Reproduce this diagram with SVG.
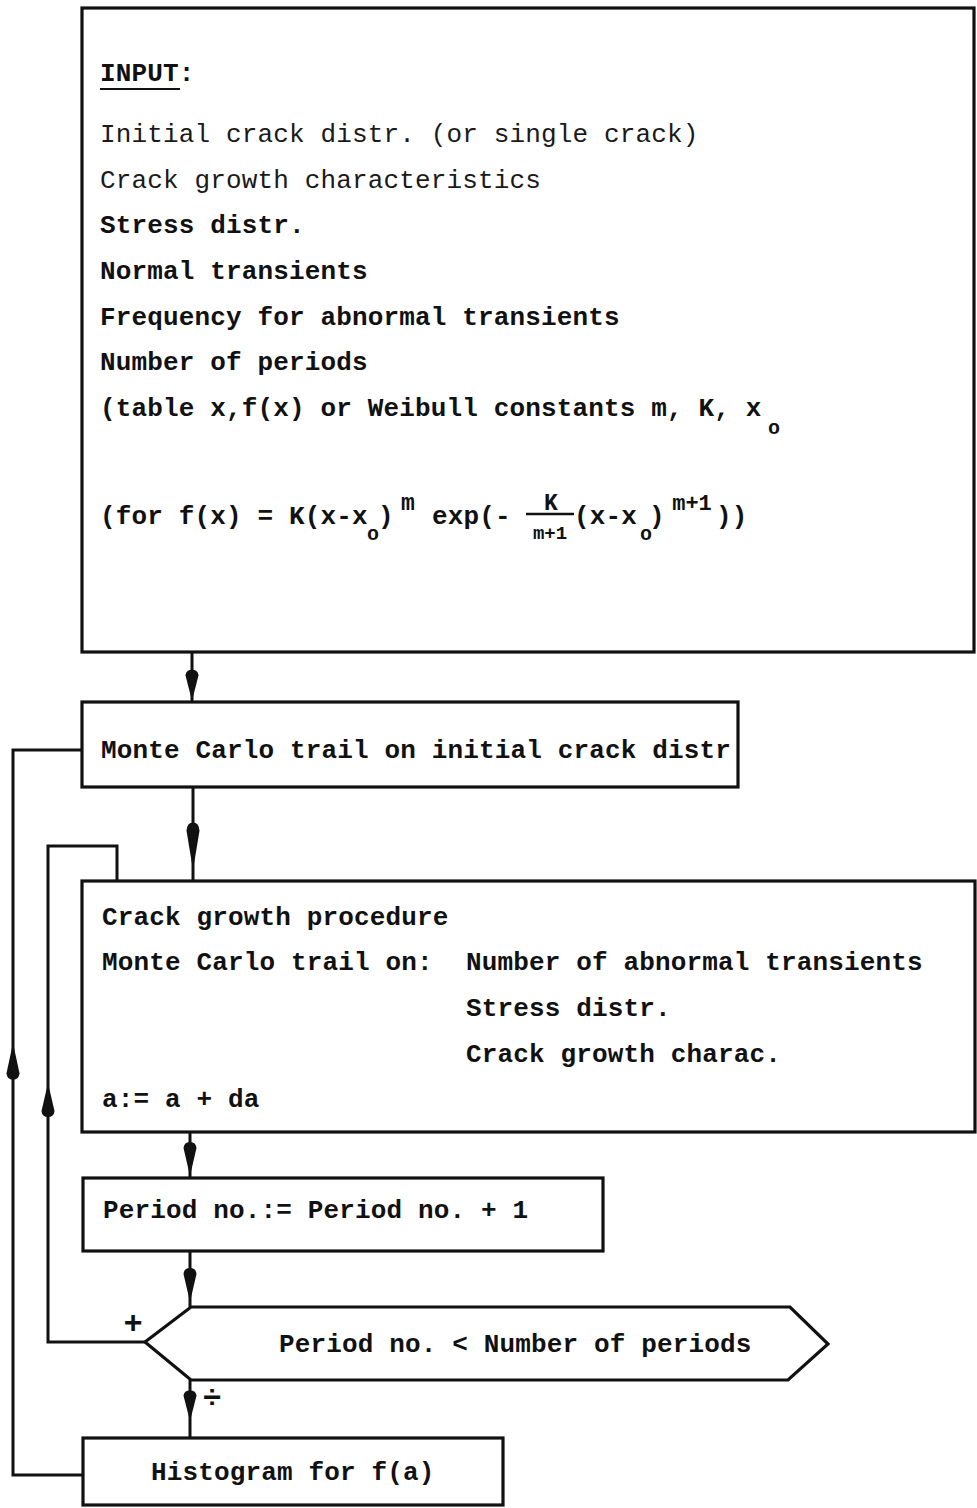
<svg xmlns="http://www.w3.org/2000/svg" xmlns:xlink="http://www.w3.org/1999/xlink" width="977" height="1508" viewBox="0 0 977 1508">
  <style>
    .box { fill: #fff; stroke: #111; stroke-width: 3.2; }
    .wire { fill: none; stroke: #111; stroke-width: 3; stroke-linejoin: miter; }
    .tt { font-family: "Liberation Mono", "DejaVu Sans Mono", monospace; font-size: 26px; letter-spacing: 0.15px; fill: #111; font-weight: bold; }
    .lt { font-weight: normal; fill: #1a1a1a; }
    .sm { font-family: "Liberation Mono", "DejaVu Sans Mono", monospace; font-size: 20px; fill: #111; font-weight: bold; }
    .sign { font-family: "Liberation Mono", "DejaVu Sans Mono", monospace; font-size: 32px; fill: #111; font-weight: bold; }
    .head { fill: #111; }
  </style>
  <defs>
    <!-- narrow arrowhead, tip at origin, pointing down -->
    <path id="ah" d="M0,0 L-6.5,-28 Q-6,-34 0,-34 Q6,-34 6.5,-28 Z"/>
  </defs>

  <rect width="977" height="1508" fill="#fff"/>

  <g id="connectors">
    <line class="wire" x1="192" y1="652" x2="192" y2="702"/>
    <line class="wire" x1="193" y1="787" x2="193" y2="881"/>
    <line class="wire" x1="190" y1="1132" x2="190" y2="1178"/>
    <line class="wire" x1="190" y1="1251" x2="190" y2="1307"/>
    <line class="wire" x1="190" y1="1380" x2="190" y2="1438"/>
    <polyline class="wire" points="83,1475 13,1475 13,750 82,750"/>
    <polyline class="wire" points="145,1342 48,1342 48,846 117,846 117,881"/>
    <use xlink:href="#ah" class="head" transform="translate(192,701) scale(1,0.92)"/>
    <use xlink:href="#ah" class="head" transform="translate(193,870) scale(1,1.4)"/>
    <use xlink:href="#ah" class="head" transform="translate(190,1176)"/>
    <use xlink:href="#ah" class="head" transform="translate(190,1302)"/>
    <use xlink:href="#ah" class="head" transform="translate(190,1421) scale(1,0.9)"/>
    <use xlink:href="#ah" class="head" transform="translate(13,1043) rotate(180) scale(1,1.08)"/>
    <use xlink:href="#ah" class="head" transform="translate(48,1083) rotate(180)"/>
    <text class="sign" x="133" y="1333" text-anchor="middle">+</text>
    <text class="sign" x="212" y="1408" text-anchor="middle">÷</text>
  </g>

  <g id="input">
    <rect class="box" x="82" y="8" width="892" height="644"/>
    <text class="tt" x="100" y="81">INPUT:</text>
    <line x1="100" y1="89" x2="180" y2="89" stroke="#111" stroke-width="2.2"/>
    <text class="tt lt" x="100" y="142">Initial crack distr. (or single crack)</text>
    <text class="tt lt" x="100" y="188">Crack growth characteristics</text>
    <text class="tt" x="100" y="233">Stress distr.</text>
    <text class="tt" x="100" y="279">Normal transients</text>
    <text class="tt" x="100" y="325">Frequency for abnormal transients</text>
    <text class="tt" x="100" y="370">Number of periods</text>
    <text class="tt" x="100" y="416">(table x,f(x) or Weibull constants m, K, x</text>
    <text class="sm" x="774" y="434" text-anchor="middle">o</text>
    <!-- Weibull density -->
    <text class="tt" x="100" y="524">(for f(x) = K(x-x</text>
    <text class="sm" x="373" y="540" text-anchor="middle">o</text>
    <text class="tt" x="378" y="524">)</text>
    <text class="sm" x="408" y="510" text-anchor="middle" style="font-size:23px">m</text>
    <text class="tt" x="432" y="524">exp(-</text>
    <text class="sm" x="551" y="510" text-anchor="middle" style="font-size:23px">K</text>
    <line x1="526" y1="514" x2="574" y2="514" stroke="#111" stroke-width="2.4"/>
    <text class="sm" x="550" y="539" text-anchor="middle" style="font-size:19px">m+1</text>
    <text class="tt" x="574" y="524">(x-x</text>
    <text class="sm" x="646" y="540" text-anchor="middle">o</text>
    <text class="tt" x="649" y="524">)</text>
    <text class="sm" x="692" y="510" text-anchor="middle" style="font-size:22px">m+1</text>
    <text class="tt" x="716" y="524">))</text>
  </g>

  <g id="initial-trial">
    <rect class="box" x="82" y="702" width="656" height="85"/>
    <text class="tt" x="101" y="758">Monte Carlo trail on initial crack distr</text>
  </g>

  <g id="crack-growth">
    <rect class="box" x="82" y="881" width="893" height="251"/>
    <text class="tt" x="102" y="925">Crack growth procedure</text>
    <text class="tt" x="102" y="970">Monte Carlo trail on:</text>
    <text class="tt" x="466" y="970">Number of abnormal transients</text>
    <text class="tt" x="466" y="1016">Stress distr.</text>
    <text class="tt" x="466" y="1062">Crack growth charac.</text>
    <text class="tt" x="102" y="1107">a:= a + da</text>
  </g>

  <g id="period-increment">
    <rect class="box" x="83" y="1178" width="520" height="73"/>
    <text class="tt" x="103" y="1218">Period no.:= Period no. + 1</text>
  </g>

  <g id="period-test">
    <polygon class="box" points="145,1342 191,1307 790,1307 828,1344 788,1380 191,1380"/>
    <text class="tt" x="279" y="1352">Period no. &lt; Number of periods</text>
  </g>

  <g id="histogram">
    <rect class="box" x="83" y="1438" width="420" height="67"/>
    <text class="tt" x="151" y="1480">Histogram for f(a)</text>
  </g>
</svg>
